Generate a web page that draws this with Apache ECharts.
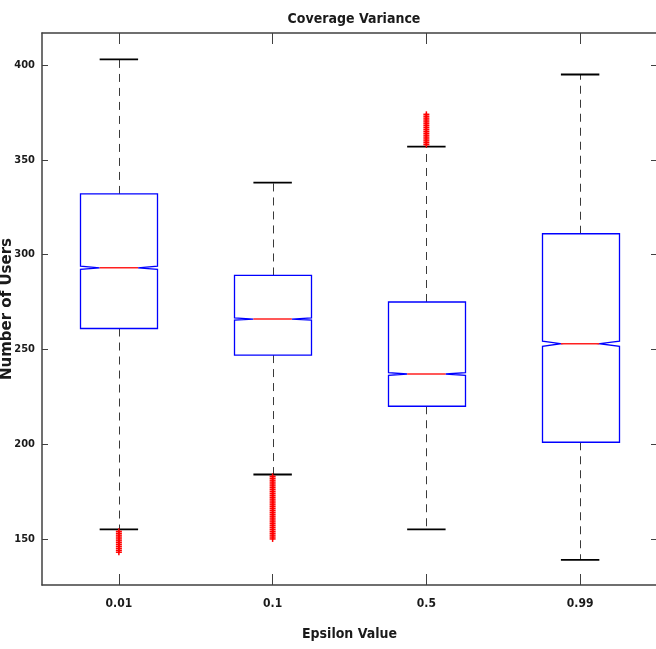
<!DOCTYPE html>
<html>
<head>
<meta charset="utf-8">
<script src="https://cdn.jsdelivr.net/npm/echarts@6/dist/echarts.min.js"></script>
<style>
html,body{margin:0;padding:0;background:#fff;}
#chart{width:656px;height:649px;}
</style>
</head>
<body>
<div id="chart"></div>
<script>
// ---- data ----
const categories = ['0.01', '0.1', '0.5', '0.99'];
const whiskerLow  = [155, 184, 155, 139];
const q1          = [261, 247, 220, 201];
const medians     = [293, 266, 237, 253];
const q3          = [332, 289, 275, 311];
const whiskerHigh = [403, 338, 357, 395];
const notchLow    = [292.2, 265.4, 236.3, 251.6];
const notchHigh   = [293.9, 266.6, 237.7, 254.3];
const outliers001 = [143, 144, 145, 146, 147, 148, 149, 150, 151, 152, 153, 154];
const outliers01  = [150, 151, 152, 153, 154, 155, 156, 157, 158, 159, 160, 161, 162, 163, 164, 165, 166, 167, 168, 169, 170, 171, 172, 173, 174, 175, 176, 177, 178, 179, 180, 181, 182, 183];
const outliers05  = [358, 359, 360, 361, 362, 363, 364, 365, 366, 367, 368, 369, 370, 371, 372, 373, 374];
const outliers099 = [];
const yTicks = [150, 200, 250, 300, 350, 400];

const outlierSets = [outliers001, outliers01, outliers05, outliers099];
const boxData = categories.map((c, i) => [i, whiskerLow[i], q1[i], medians[i], q3[i], whiskerHigh[i], notchLow[i], notchHigh[i]]);
const outlierData = [];
outlierSets.forEach((set, i) => set.forEach(v => outlierData.push([i, v])));

const NARROW = "'DejaVu Sans Condensed', 'Liberation Sans Narrow', 'Arial Narrow', sans-serif";
const AXIS_COLOR = '#404040';
const TEXT_COLOR = '#1a1a1a';

function px(x) { return Math.round(x) + 0.5; }

function renderBox(params, api) {
  const i = api.value(0);
  const band = api.size([1, 0])[0];
  const cx = api.coord([i, api.value(3)])[0];
  const y = k => api.coord([i, api.value(k)])[1];
  const yWL = y(1), yQ1 = y(2), yMed = y(3), yQ3 = y(4), yWH = y(5), yNL = y(6), yNH = y(7);
  const half = band * 0.25;
  const inner = band * 0.125;
  const capHalf = band * 0.125;
  const L = px(cx - half), R = px(cx + half), C = px(cx);
  const children = [];
  children.push({type: 'line', shape: {x1: C, y1: yQ3, x2: C, y2: yWH},
    style: {stroke: '#3a3a3a', lineWidth: 1, lineDash: [8, 6]}});
  children.push({type: 'line', shape: {x1: C, y1: yQ1, x2: C, y2: yWL},
    style: {stroke: '#3a3a3a', lineWidth: 1, lineDash: [8, 6]}});
  children.push({type: 'line', shape: {x1: cx - capHalf, y1: yWH, x2: cx + capHalf, y2: yWH},
    style: {stroke: '#000', lineWidth: 1.8}});
  children.push({type: 'line', shape: {x1: cx - capHalf, y1: yWL, x2: cx + capHalf, y2: yWL},
    style: {stroke: '#000', lineWidth: 1.8}});
  children.push({type: 'polygon', shape: {points: [
      [L, yQ1], [L, yNL], [cx - inner, yMed], [L, yNH], [L, yQ3],
      [R, yQ3], [R, yNH], [cx + inner, yMed], [R, yNL], [R, yQ1]
    ]},
    style: {fill: 'none', stroke: '#0000ff', lineWidth: 1.3}});
  children.push({type: 'line', shape: {x1: cx - inner, y1: yMed, x2: cx + inner, y2: yMed},
    style: {stroke: '#ff2020', lineWidth: 1.5}});
  return {type: 'group', children};
}

function renderOutlier(params, api) {
  const p = api.coord([api.value(0), api.value(1)]);
  const s = 3;
  return {type: 'group', children: [
    {type: 'line', shape: {x1: p[0] - s, y1: p[1], x2: p[0] + s, y2: p[1]}, style: {stroke: '#ff0000', lineWidth: 1.5}},
    {type: 'line', shape: {x1: p[0], y1: p[1] - s, x2: p[0], y2: p[1] + s}, style: {stroke: '#ff0000', lineWidth: 1.5}}
  ]};
}

const chart = echarts.init(document.getElementById('chart'), null, {renderer: 'canvas'});
const yMin = 125.7, yMax = 416.9;

const option = {
  animation: false,
  backgroundColor: '#ffffff',
  title: {
    text: 'Coverage Variance',
    left: 349, top: 7, textAlign: 'center',
    textStyle: {fontFamily: NARROW, fontWeight: 'bold', fontSize: 14, color: TEXT_COLOR}
  },
  grid: {left: 42, right: -1, top: 33, bottom: 64, containLabel: false, outerBoundsMode: 'none'},
  xAxis: [
    {
      type: 'category', data: categories, position: 'bottom', boundaryGap: true,
      axisLine: {show: true, lineStyle: {color: AXIS_COLOR, width: 1.5}},
      axisTick: {show: true, inside: true, alignWithLabel: true, length: 11, lineStyle: {color: AXIS_COLOR, width: 1}},
      axisLabel: {margin: 13, fontSize: 12, fontWeight: 'bold', fontFamily: NARROW, color: TEXT_COLOR},
      splitLine: {show: false},
      name: 'Epsilon Value', nameLocation: 'middle', nameGap: 42, nameMoveOverlap: false,
      nameTextStyle: {fontFamily: NARROW, fontWeight: 'bold', fontSize: 14, color: TEXT_COLOR}
    },
    {
      type: 'category', data: categories, position: 'top', boundaryGap: true,
      axisLine: {show: true, lineStyle: {color: AXIS_COLOR, width: 1.5}},
      axisTick: {show: true, inside: true, alignWithLabel: true, length: 11, lineStyle: {color: AXIS_COLOR, width: 1}},
      axisLabel: {show: false}, splitLine: {show: false}
    }
  ],
  yAxis: [
    {
      type: 'value', min: yMin, max: yMax, position: 'left',
      axisLine: {show: true, lineStyle: {color: AXIS_COLOR, width: 1.5}},
      axisTick: {show: true, inside: true, length: 6, customValues: yTicks, lineStyle: {color: AXIS_COLOR, width: 1}},
      axisLabel: {customValues: yTicks, margin: 7, fontSize: 11, fontWeight: 'bold', fontFamily: NARROW, color: TEXT_COLOR},
      splitLine: {show: false},
      name: 'Number of Users', nameLocation: 'middle', nameGap: 27, nameRotate: 90, nameMoveOverlap: false,
      nameTextStyle: {fontFamily: "'DejaVu Sans', 'Liberation Sans', sans-serif", fontWeight: 'bold', fontSize: 15, color: TEXT_COLOR}
    },
    {
      type: 'value', min: yMin, max: yMax, position: 'right',
      axisLine: {show: true, lineStyle: {color: AXIS_COLOR, width: 1.5}},
      axisTick: {show: true, inside: true, length: 6, customValues: yTicks, lineStyle: {color: AXIS_COLOR, width: 1}},
      axisLabel: {show: false}, splitLine: {show: false}
    }
  ],
  series: [
    {
      type: 'custom', name: 'box', xAxisIndex: 0, yAxisIndex: 0,
      renderItem: renderBox, data: boxData,
      encode: {x: 0, y: [1, 2, 3, 4, 5]}, silent: true
    },
    {
      type: 'custom', name: 'outliers', xAxisIndex: 0, yAxisIndex: 0,
      renderItem: renderOutlier, data: outlierData,
      encode: {x: 0, y: 1}, silent: true
    }
  ]
};
chart.setOption(option);
</script>
</body>
</html>
